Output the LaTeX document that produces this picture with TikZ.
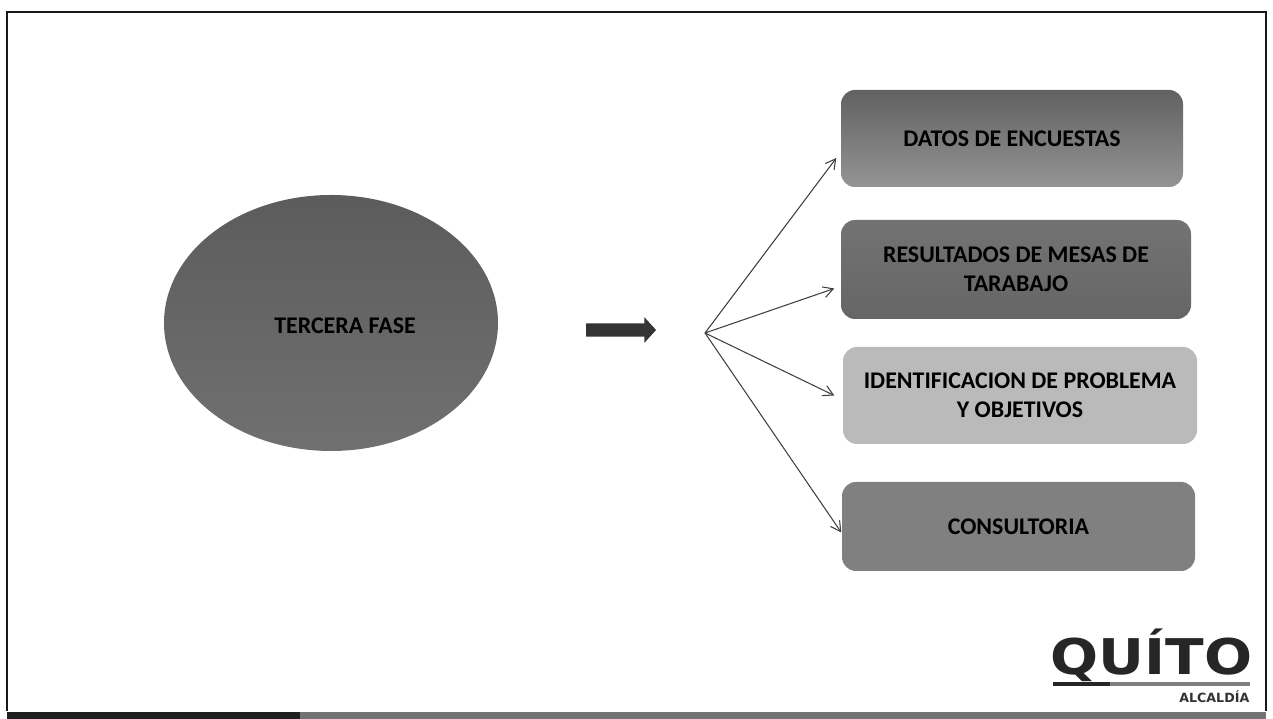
\documentclass[tikz,border=0pt]{standalone}
\usepackage{fontspec}
\setmainfont{Carlito}
\newfontfamily\logofont{DejaVu Sans}
\usetikzlibrary{shapes.geometric,shapes.arrows,arrows.meta}
\tikzset{
    boxlabel/.style={font=\fontsize{6.8}{8.2}\selectfont\bfseries, text=black, align=center},
    fasebox/.style={draw=none, rounded corners=0.14cm, minimum height=#1, boxlabel},
    branch/.style={color=black!75, line width=0.3pt, -{Straight Barb[length=0.1cm,width=0.11cm]}},
}
\begin{document}
\begin{tikzpicture}
    \useasboundingbox (0,0) rectangle (12.73,7.19);
    \fill[white] (0,0) rectangle (12.73,7.19);
    \draw[line width=0.5pt, color=black!90] (0.07,0.08) -- (0.07,7.07) -- (12.66,7.07) -- (12.66,0.08);
    \fill[color=black!88] (0.07,0) rectangle (3.0,0.07);
    \fill[color=black!55] (3.0,0) rectangle (12.66,0.07);

    \node (fase) [ellipse, minimum width=3.34cm, minimum height=2.56cm, inner sep=0pt,
        top color=black!64, bottom color=black!56] at (3.31,3.96) {};
    \node (fasetexto) [boxlabel] at (3.45,3.93) {TERCERA FASE};
    \node (flecha) [single arrow, draw=none, fill=black!80, minimum width=0.24cm, minimum height=0.7cm,
        single arrow head extend=0.06cm, single arrow tip angle=95, inner sep=0.06cm] at (6.18,3.89) {};

    \node (datos) [fasebox=0.97cm, minimum width=3.42cm, top color=black!62, bottom color=black!42] at (10.12,5.805) {DATOS DE ENCUESTAS};
    \node (mesas) [fasebox=0.99cm, minimum width=3.50cm, top color=black!55, bottom color=black!60] at (10.16,4.495) {RESULTADOS DE MESAS DE\\TARABAJO};
    \node (problema) [fasebox=0.97cm, minimum width=3.54cm, fill=black!27] at (10.20,3.235) {IDENTIFICACION DE PROBLEMA\\Y OBJETIVOS};
    \node (consultoria) [fasebox=0.89cm, minimum width=3.53cm, fill=black!50] at (10.185,1.925) {CONSULTORIA};

    \coordinate (centro) at (7.05,3.86);
    \draw[branch] (centro) -- ([shift={(-0.04,-0.195)}]datos.west);
    \draw[branch] (centro) -- ([shift={(-0.06,-0.19)}]mesas.west);
    \draw[branch] (centro) -- ([shift={(-0.08,0)}]problema.west);
    \draw[branch] (centro) -- ([shift={(0,-0.06)}]consultoria.west);

    \node (quito) [inner sep=0pt, color=black!85, font=\logofont\bfseries\fontsize{14}{14}\selectfont, xscale=1.15, yscale=1.0] at (11.515,0.64) {QUÍTO};
    \coordinate (barraizq) at (10.53,0.35);
    \coordinate (barramed) at (11.1,0.35);
    \coordinate (barrader) at (12.5,0.35);
    \draw[line width=1.1pt, color=black!85] (barraizq) -- (barramed);
    \draw[line width=1.1pt, color=black!50] (barramed) -- (barrader);
    \node (alcaldia) [inner sep=0pt, anchor=east, color=black!80, font=\logofont\bfseries\fontsize{3.6}{4}\selectfont] at (12.5,0.22) {ALCALDÍA};
\end{tikzpicture}
\end{document}
